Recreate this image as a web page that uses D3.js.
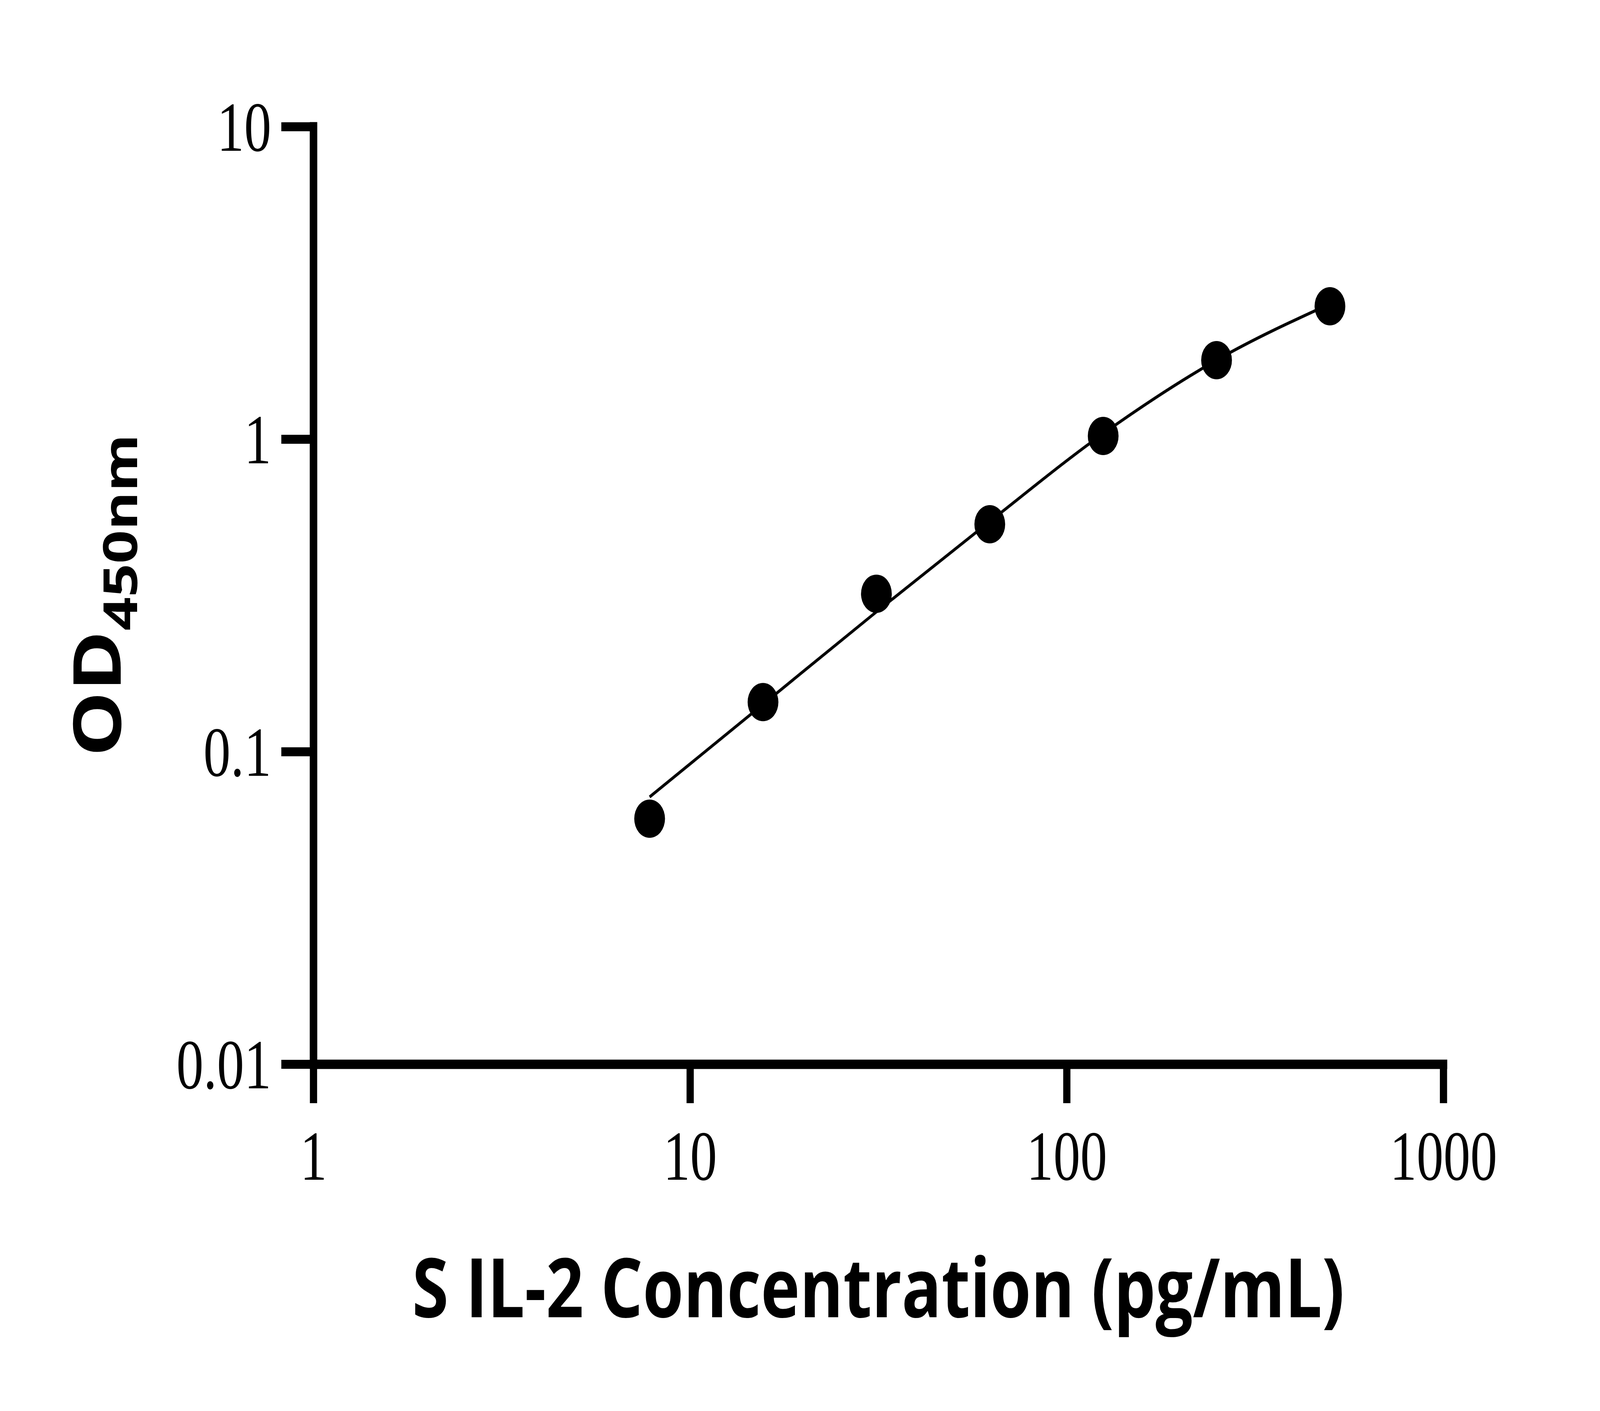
<!DOCTYPE html>
<html><head><meta charset="utf-8">
<script src="https://cdn.jsdelivr.net/npm/d3@7"></script>
<style>html,body{margin:0;padding:0;background:#fff;overflow:hidden;width:100vw;height:100vh;} svg{display:block;width:100vw;height:100vh;}</style>
</head><body>
<svg id="chart" viewBox="0 0 5096 3612" preserveAspectRatio="none"></svg>
<script>
const xTickValues = [1, 10, 100, 1000];
const xTickLabels = ["1", "10", "100", "1000"];
const yTickValues = [0.01, 0.1, 1, 10];
const yTickLabels = ["0.01", "0.1", "1", "10"];
const concentration = [7.8125, 15.625, 31.25, 62.5, 125, 250, 500];
const odMeasured = [0.061, 0.144, 0.320, 0.534, 1.023, 1.789, 2.661];
const fitConcentration = [7.8125, 15.625, 31.25, 62.5, 125, 250, 500];
const fitOD = [0.0716, 0.1416, 0.280, 0.545, 1.041, 1.789, 2.707];
const xTitle = "S IL-2 Concentration (pg/mL)";
const yTitleMain = "OD";
const yTitleSub = "450nm";

const svg = d3.select("#chart");
svg.append("rect").attr("width", 5096).attr("height", 3612).attr("fill", "#fff");

const x = d3.scaleLog().domain([1, 1000]).range([998, 4597]);
const y = d3.scaleLog().domain([0.01, 10]).range([2724, 324]);

// fitted curve
const line = d3.line().x(d => x(d[0])).y(d => y(d[1])).curve(d3.curveMonotoneX);
svg.append("path")
  .datum(fitConcentration.map((c, i) => [c, fitOD[i]]))
  .attr("d", line)
  .attr("fill", "none")
  .attr("stroke", "#000")
  .attr("stroke-width", 8);

// measured points
svg.append("g").selectAll("circle")
  .data(concentration.map((c, i) => [c, odMeasured[i]]))
  .join("circle")
  .attr("cx", d => x(d[0]))
  .attr("cy", d => y(d[1]))
  .attr("r", 49)
  .attr("fill", "#000");

const serif = "'Liberation Serif','Times New Roman',serif";
const sans = "'Open Sans','Noto Sans',sans-serif";

// y axis
const gy = svg.append("g")
  .attr("transform", `translate(${x(1)},0)`)
  .call(d3.axisLeft(y).tickValues(yTickValues)
    .tickFormat(d => yTickLabels[yTickValues.indexOf(d)])
    .tickSize(102).tickSizeOuter(0));
gy.select(".domain").attr("stroke", "#000").attr("stroke-width", 24).attr("stroke-linecap", "square");
gy.selectAll(".tick line").attr("stroke", "#000").attr("stroke-width", 23);
gy.selectAll(".tick text")
  .attr("font-family", serif).attr("font-size", 180).attr("fill", "#000")
  .attr("dy", null).attr("x", 0).attr("y", 61)
  .attr("text-anchor", "end")
  .attr("transform", "translate(-134,0) scale(0.96,1)");

// x axis
const gx = svg.append("g")
  .attr("transform", `translate(0,${y(0.01)})`)
  .call(d3.axisBottom(x).tickValues(xTickValues)
    .tickFormat(d => xTickLabels[xTickValues.indexOf(d)])
    .tickSize(100).tickSizeOuter(0));
gx.select(".domain").attr("stroke", "#000").attr("stroke-width", 24).attr("stroke-linecap", "square");
gx.selectAll(".tick line").attr("stroke", "#000").attr("stroke-width", 23);
gx.selectAll(".tick text")
  .attr("font-family", serif).attr("font-size", 180).attr("fill", "#000")
  .attr("dy", null).attr("y", 296)
  .attr("text-anchor", "middle")
  .attr("transform", "scale(0.95,1)");

// axis titles
svg.append("text")
  .attr("x", (x(1) + x(1000)) / 2).attr("y", 3372)
  .attr("text-anchor", "middle")
  .attr("font-family", sans).attr("font-weight", "bold").attr("font-size", 210)
  .attr("fill", "#000")
  .text(xTitle);

const yt = svg.append("text")
  .attr("transform", `translate(384,${(y(0.01) + y(10)) / 2}) rotate(-90)`)
  .attr("text-anchor", "middle")
  .attr("font-family", sans).attr("font-weight", "bold").attr("font-size", 210)
  .attr("fill", "#000");
yt.append("tspan").text(yTitleMain);
yt.append("tspan").attr("font-size", 150).attr("dy", 53).text(yTitleSub);
</script>
</body></html>
